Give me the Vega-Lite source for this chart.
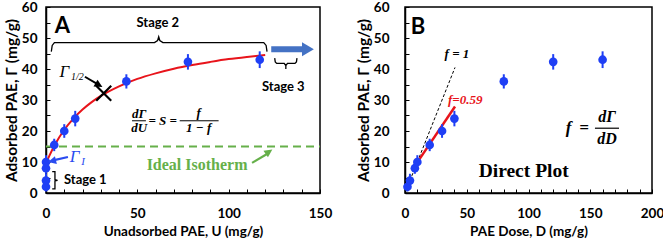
{
  "$schema": "https://vega.github.io/schema/vega-lite/v6.json",
  "padding": {"left": 3, "top": -1, "right": 2, "bottom": 2},
  "bounds": "flush",
  "spacing": 85,
  "config": {
    "view": {"stroke": "black", "strokeWidth": 1.5},
    "axis": {
      "labelFont": "Lato", "labelFontWeight": "bold", "labelFontSize": 13.5, "labelColor": "black",
      "titleFont": "Lato", "titleFontWeight": "bold", "titleFontSize": 13.5, "titleColor": "black",
      "domainColor": "black", "domainWidth": 1.5, "tickColor": "black", "tickSize": -4, "tickWidth": 1,
      "grid": false, "labelFlush": false, "labelOverlap": false
    },
    "axisX": {"labelPadding": 17, "titlePadding": 5},
    "axisY": {"labelPadding": 13, "titlePadding": 2, "titleFontSize": 15.5}
  },
  "datasets": {
    "iso": [
      {"D": 2, "U": 0, "G": 2, "lo": 0.5, "hi": 3.5},
      {"D": 4, "U": 0, "G": 4, "lo": 1.8, "hi": 6.2},
      {"D": 8, "U": 0, "G": 8, "lo": 6.2, "hi": 9.8},
      {"D": 10, "U": 0, "G": 10, "lo": 7.8, "hi": 12.2},
      {"D": 20, "U": 4.5, "G": 15.5, "lo": 13.5, "hi": 17.5},
      {"D": 30, "U": 10, "G": 20, "lo": 17.8, "hi": 22.2},
      {"D": 40, "U": 16, "G": 24, "lo": 21.5, "hi": 26.5},
      {"D": 80, "U": 44, "G": 36, "lo": 33.7, "hi": 38.3},
      {"D": 120, "U": 77.7, "G": 42.3, "lo": 39.8, "hi": 44.8},
      {"D": 160, "U": 117, "G": 43, "lo": 40.3, "hi": 45.7}
    ],
    "fitA": [
      {"x": 0, "y": 9.5}, {"x": 2, "y": 12.2}, {"x": 5, "y": 15.7}, {"x": 10, "y": 20.4},
      {"x": 15, "y": 24.0}, {"x": 20, "y": 26.9}, {"x": 25, "y": 29.3}, {"x": 30, "y": 31.3},
      {"x": 40, "y": 34.4}, {"x": 50, "y": 36.8}, {"x": 60, "y": 38.6}, {"x": 70, "y": 40.1},
      {"x": 80, "y": 41.3}, {"x": 90, "y": 42.3}, {"x": 100, "y": 43.2}, {"x": 110, "y": 43.9},
      {"x": 120, "y": 44.5}
    ],
    "braces": [
      {"id": "s2", "k": 1, "x": 2.9, "y": 45.6}, {"id": "s2", "k": 2, "x": 3.4, "y": 47.6},
      {"id": "s2", "k": 3, "x": 4.6, "y": 48.5}, {"id": "s2", "k": 4, "x": 59.4, "y": 48.5},
      {"id": "s2", "k": 5, "x": 61.1, "y": 49.2}, {"id": "s2", "k": 6, "x": 61.7, "y": 50.4},
      {"id": "s2", "k": 7, "x": 62.3, "y": 49.2}, {"id": "s2", "k": 8, "x": 64.0, "y": 48.5},
      {"id": "s2", "k": 9, "x": 119.2, "y": 48.5}, {"id": "s2", "k": 10, "x": 120.5, "y": 47.6},
      {"id": "s2", "k": 11, "x": 121, "y": 45.6},
      {"id": "s3", "k": 1, "x": 125.2, "y": 43.5}, {"id": "s3", "k": 2, "x": 125.5, "y": 42.3},
      {"id": "s3", "k": 3, "x": 126.3, "y": 41.8}, {"id": "s3", "k": 4, "x": 130.4, "y": 41.8},
      {"id": "s3", "k": 5, "x": 131.3, "y": 41.1}, {"id": "s3", "k": 6, "x": 131.3, "y": 40.0},
      {"id": "s3", "k": 7, "x": 131.3, "y": 41.1}, {"id": "s3", "k": 8, "x": 132.2, "y": 41.8},
      {"id": "s3", "k": 9, "x": 136.3, "y": 41.8}, {"id": "s3", "k": 10, "x": 137.1, "y": 42.3},
      {"id": "s3", "k": 11, "x": 137.4, "y": 43.5},
      {"id": "s1", "k": 1, "x": 3.4, "y": 6.9}, {"id": "s1", "k": 2, "x": 4.9, "y": 6.9},
      {"id": "s1", "k": 3, "x": 4.9, "y": 4.3}, {"id": "s1", "k": 4, "x": 6.3, "y": 4.1},
      {"id": "s1", "k": 5, "x": 4.9, "y": 3.9}, {"id": "s1", "k": 6, "x": 4.9, "y": 1.3},
      {"id": "s1", "k": 7, "x": 3.4, "y": 1.3}
    ]
  },
  "hconcat": [
    {
      "width": 274,
      "height": 186,
      "encoding": {
        "x": {
          "field": "x", "type": "quantitative", "title": "Unadsorbed PAE, U (mg/g)",
          "scale": {"domain": [0, 150]},
          "axis": {
            "values": [0, 10, 20, 30, 40, 50, 60, 70, 80, 90, 100, 110, 120, 130, 140, 150],
            "labelExpr": "datum.value % 50 === 0 ? datum.label : ''"
          }
        },
        "y": {
          "field": "y", "type": "quantitative", "title": "Adsorbed PAE, Γ (mg/g)",
          "scale": {"domain": [0, 60]},
          "axis": {
            "values": [0, 5, 10, 15, 20, 25, 30, 35, 40, 45, 50, 55, 60],
            "labelExpr": "datum.value % 10 === 0 ? datum.label : ''"
          }
        }
      },
      "layer": [
        {
          "data": {"values": [{"x": 0, "x2": 150, "y": 15}]},
          "mark": {"type": "rule", "color": "#66b04a", "strokeWidth": 2, "strokeDash": [8, 5]},
          "encoding": {"x2": {"field": "x2"}}
        },
        {
          "data": {"name": "fitA"},
          "mark": {"type": "line", "color": "#e8141b", "strokeWidth": 2, "interpolate": "monotone"}
        },
        {
          "data": {"name": "iso"},
          "mark": {"type": "rule", "color": "#1f3ff5", "strokeWidth": 2},
          "encoding": {
            "x": {"field": "U", "type": "quantitative", "title": "Unadsorbed PAE, U (mg/g)"},
            "y": {"field": "lo", "type": "quantitative", "title": "Adsorbed PAE, Γ (mg/g)"},
            "y2": {"field": "hi"}
          }
        },
        {
          "data": {"name": "iso"},
          "mark": {"type": "point", "filled": true, "color": "#1f3ff5", "opacity": 1, "size": 75},
          "encoding": {
            "x": {"field": "U", "type": "quantitative", "title": "Unadsorbed PAE, U (mg/g)"},
            "y": {"field": "G", "type": "quantitative", "title": "Adsorbed PAE, Γ (mg/g)"}
          }
        },
        {
          "data": {"name": "braces"},
          "mark": {"type": "line", "color": "black", "strokeWidth": 1.3},
          "encoding": {"detail": {"field": "id"}, "order": {"field": "k"}}
        },
        {
          "data": {"values": [{"x": 31.6, "y": 32.2}]},
          "mark": {"type": "point", "shape": "M-1,-1L1,1M-1,1L1,-1", "size": 225, "filled": false, "color": "black", "strokeWidth": 2.2, "opacity": 1}
        },
        {
          "data": {"values": [{"x": 21.3, "y": 37.5, "x2": 28.0, "y2": 35.2}]},
          "mark": {"type": "rule", "color": "black", "strokeWidth": 2},
          "encoding": {"x2": {"field": "x2"}, "y2": {"field": "y2"}}
        },
        {
          "data": {"values": [{"x": 29.0, "y": 34.8, "a": 30}]},
          "mark": {"type": "point", "shape": "M-1,-1L1,0L-1,1Z", "size": 64, "filled": true, "color": "black", "opacity": 1},
          "encoding": {"angle": {"field": "a", "type": "quantitative", "scale": null}}
        },
        {
          "data": {"values": [{"x": 12.0, "y": 11.6, "x2": 4.5, "y2": 10.6}]},
          "mark": {"type": "rule", "color": "#2a4bf0", "strokeWidth": 2.2},
          "encoding": {"x2": {"field": "x2"}, "y2": {"field": "y2"}}
        },
        {
          "data": {"values": [{"x": 3.3, "y": 10.3, "a": 166}]},
          "mark": {"type": "point", "shape": "M-1,-1L1,0L-1,1Z", "size": 64, "filled": true, "color": "#2a4bf0", "opacity": 1},
          "encoding": {"angle": {"field": "a", "type": "quantitative", "scale": null}}
        },
        {
          "data": {"values": [{"x": 112.8, "y": 9.7, "x2": 121.0, "y2": 12.6}]},
          "mark": {"type": "rule", "color": "#66b04a", "strokeWidth": 2.2},
          "encoding": {"x2": {"field": "x2"}, "y2": {"field": "y2"}}
        },
        {
          "data": {"values": [{"x": 122.1, "y": 13.3, "a": -34}]},
          "mark": {"type": "point", "shape": "M-1,-1L1,0L-1,1Z", "size": 64, "filled": true, "color": "#66b04a", "opacity": 1},
          "encoding": {"angle": {"field": "a", "type": "quantitative", "scale": null}}
        },
        {
          "data": {"values": [{"x": 123.3, "y": 46.4, "x2": 140.9}]},
          "mark": {"type": "rule", "color": "#4472c4", "strokeWidth": 6},
          "encoding": {"x2": {"field": "x2"}}
        },
        {
          "data": {"values": [{"x": 143.4, "y": 46.4}]},
          "mark": {"type": "point", "shape": "M-0.85,-1L0.85,0L-0.85,1Z", "size": 196, "filled": true, "color": "#4472c4", "opacity": 1}
        },
        {
          "data": {"values": [{"x": 47.1, "x2": 54.7, "y": 23.3}, {"x": 73.2, "x2": 94.5, "y": 23.3}]},
          "mark": {"type": "rule", "color": "black", "strokeWidth": 1},
          "encoding": {"x2": {"field": "x2"}}
        },
        {
          "data": {"values": [{"x": 9.0, "y": 54.0, "t": "A"}]},
          "mark": {"type": "text", "font": "Lato", "fontWeight": "bold", "fontSize": 22, "color": "black", "baseline": "middle"},
          "encoding": {"text": {"field": "t"}}
        },
        {
          "data": {"values": [
            {"x": 61.2, "y": 54.9, "t": "Stage 2"},
            {"x": 129.9, "y": 34.3, "t": "Stage 3"},
            {"x": 21.5, "y": 4.2, "t": "Stage 1"}
          ]},
          "mark": {"type": "text", "font": "Lato", "fontWeight": "bold", "fontSize": 13, "color": "black", "baseline": "middle"},
          "encoding": {"text": {"field": "t"}}
        },
        {
          "data": {"values": [{"x": 82.7, "y": 9.0, "t": "Ideal Isotherm"}]},
          "mark": {"type": "text", "font": "Liberation Serif", "fontWeight": "bold", "fontSize": 16, "color": "#66b04a", "baseline": "middle"},
          "encoding": {"text": {"field": "t"}}
        },
        {
          "data": {"values": [{"x": 10.1, "y": 39.1, "t": "Γ"}]},
          "mark": {"type": "text", "font": "Liberation Serif", "fontStyle": "italic", "fontSize": 17, "color": "black", "baseline": "middle"},
          "encoding": {"text": {"field": "t"}}
        },
        {
          "data": {"values": [{"x": 17.2, "y": 37.3, "t": "1/2"}]},
          "mark": {"type": "text", "font": "Liberation Serif", "fontStyle": "italic", "fontSize": 10, "color": "black", "baseline": "middle"},
          "encoding": {"text": {"field": "t"}}
        },
        {
          "data": {"values": [{"x": 15.6, "y": 11.7, "t": "Γ"}]},
          "mark": {"type": "text", "font": "Liberation Serif", "fontStyle": "italic", "fontSize": 17, "color": "#2a4bf0", "baseline": "middle"},
          "encoding": {"text": {"field": "t"}}
        },
        {
          "data": {"values": [{"x": 20.3, "y": 10.0, "t": "I"}]},
          "mark": {"type": "text", "font": "Liberation Serif", "fontStyle": "italic", "fontSize": 11, "color": "#2a4bf0", "baseline": "middle"},
          "encoding": {"text": {"field": "t"}}
        },
        {
          "data": {"values": [
            {"x": 51.0, "y": 25.6, "t": "dΓ"},
            {"x": 51.0, "y": 21.0, "t": "dU"},
            {"x": 63.9, "y": 23.3, "t": "= S ="},
            {"x": 83.6, "y": 25.8, "t": "f"},
            {"x": 83.6, "y": 21.0, "t": "1 − f"}
          ]},
          "mark": {"type": "text", "font": "Liberation Serif", "fontStyle": "italic", "fontWeight": "bold", "fontSize": 13, "color": "black", "baseline": "middle"},
          "encoding": {"text": {"field": "t"}}
        }
      ]
    },
    {
      "width": 247,
      "height": 186,
      "encoding": {
        "x": {
          "field": "x", "type": "quantitative", "title": "PAE Dose, D (mg/g)",
          "scale": {"domain": [0, 200]},
          "axis": {
            "values": [0, 10, 20, 30, 40, 50, 60, 70, 80, 90, 100, 110, 120, 130, 140, 150, 160, 170, 180, 190, 200],
            "labelExpr": "datum.value % 50 === 0 ? datum.label : ''"
          }
        },
        "y": {
          "field": "y", "type": "quantitative", "title": "Adsorbed PAE, Γ (mg/g)",
          "scale": {"domain": [0, 60]},
          "axis": {
            "labelPadding": 20,
            "values": [0, 5, 10, 15, 20, 25, 30, 35, 40, 45, 50, 55, 60],
            "labelExpr": "datum.value % 10 === 0 ? datum.label : ''"
          }
        }
      },
      "layer": [
        {
          "data": {"values": [{"x": 5.5, "y": 5.5, "x2": 40.5, "y2": 40.5}]},
          "mark": {"type": "rule", "color": "black", "strokeWidth": 1, "strokeDash": [3, 2]},
          "encoding": {"x2": {"field": "x2"}, "y2": {"field": "y2"}}
        },
        {
          "data": {"values": [{"x": 10.5, "y": 10.2, "x2": 40.5, "y2": 27.9}]},
          "mark": {"type": "rule", "color": "#e8141b", "strokeWidth": 2.5},
          "encoding": {"x2": {"field": "x2"}, "y2": {"field": "y2"}}
        },
        {
          "data": {"name": "iso"},
          "mark": {"type": "rule", "color": "#1f3ff5", "strokeWidth": 2},
          "encoding": {
            "x": {"field": "D", "type": "quantitative", "title": "PAE Dose, D (mg/g)"},
            "y": {"field": "lo", "type": "quantitative", "title": "Adsorbed PAE, Γ (mg/g)"},
            "y2": {"field": "hi"}
          }
        },
        {
          "data": {"name": "iso"},
          "mark": {"type": "point", "filled": true, "color": "#1f3ff5", "opacity": 1, "size": 75},
          "encoding": {
            "x": {"field": "D", "type": "quantitative", "title": "PAE Dose, D (mg/g)"},
            "y": {"field": "G", "type": "quantitative", "title": "Adsorbed PAE, Γ (mg/g)"}
          }
        },
        {
          "data": {"values": [{"x": 153.8, "x2": 173.3, "y": 20.9}]},
          "mark": {"type": "rule", "color": "black", "strokeWidth": 1.2},
          "encoding": {"x2": {"field": "x2"}}
        },
        {
          "data": {"values": [{"x": 10.5, "y": 53.4, "t": "B"}]},
          "mark": {"type": "text", "font": "Lato", "fontWeight": "bold", "fontSize": 22, "color": "black", "baseline": "middle"},
          "encoding": {"text": {"field": "t"}}
        },
        {
          "data": {"values": [{"x": 42.1, "y": 44.8, "t": "f = 1"}]},
          "mark": {"type": "text", "font": "Liberation Serif", "fontStyle": "italic", "fontWeight": "bold", "fontSize": 13, "color": "black", "baseline": "middle"},
          "encoding": {"text": {"field": "t"}}
        },
        {
          "data": {"values": [{"x": 48.8, "y": 30.0, "t": "f=0.59"}]},
          "mark": {"type": "text", "font": "Liberation Serif", "fontStyle": "italic", "fontWeight": "bold", "fontSize": 13, "color": "#e8141b", "baseline": "middle"},
          "encoding": {"text": {"field": "t"}}
        },
        {
          "data": {"values": [
            {"x": 132.5, "y": 21.0, "t": "f"},
            {"x": 145.0, "y": 21.0, "t": "="}
          ]},
          "mark": {"type": "text", "font": "Liberation Serif", "fontStyle": "italic", "fontWeight": "bold", "fontSize": 17, "color": "black", "baseline": "middle"},
          "encoding": {"text": {"field": "t"}}
        },
        {
          "data": {"values": [{"x": 163.6, "y": 21.9, "t": "dΓ"}]},
          "mark": {"type": "text", "font": "Liberation Serif", "fontStyle": "italic", "fontWeight": "bold", "fontSize": 16, "color": "black", "baseline": "bottom"},
          "encoding": {"text": {"field": "t"}}
        },
        {
          "data": {"values": [{"x": 163.6, "y": 19.9, "t": "dD"}]},
          "mark": {"type": "text", "font": "Liberation Serif", "fontStyle": "italic", "fontWeight": "bold", "fontSize": 16, "color": "black", "baseline": "top"},
          "encoding": {"text": {"field": "t"}}
        },
        {
          "data": {"values": [{"x": 96.1, "y": 7.1, "t": "Direct Plot"}]},
          "mark": {"type": "text", "font": "Liberation Serif", "fontWeight": "bold", "fontSize": 19.5, "color": "black", "baseline": "middle"},
          "encoding": {"text": {"field": "t"}}
        }
      ]
    }
  ]
}
